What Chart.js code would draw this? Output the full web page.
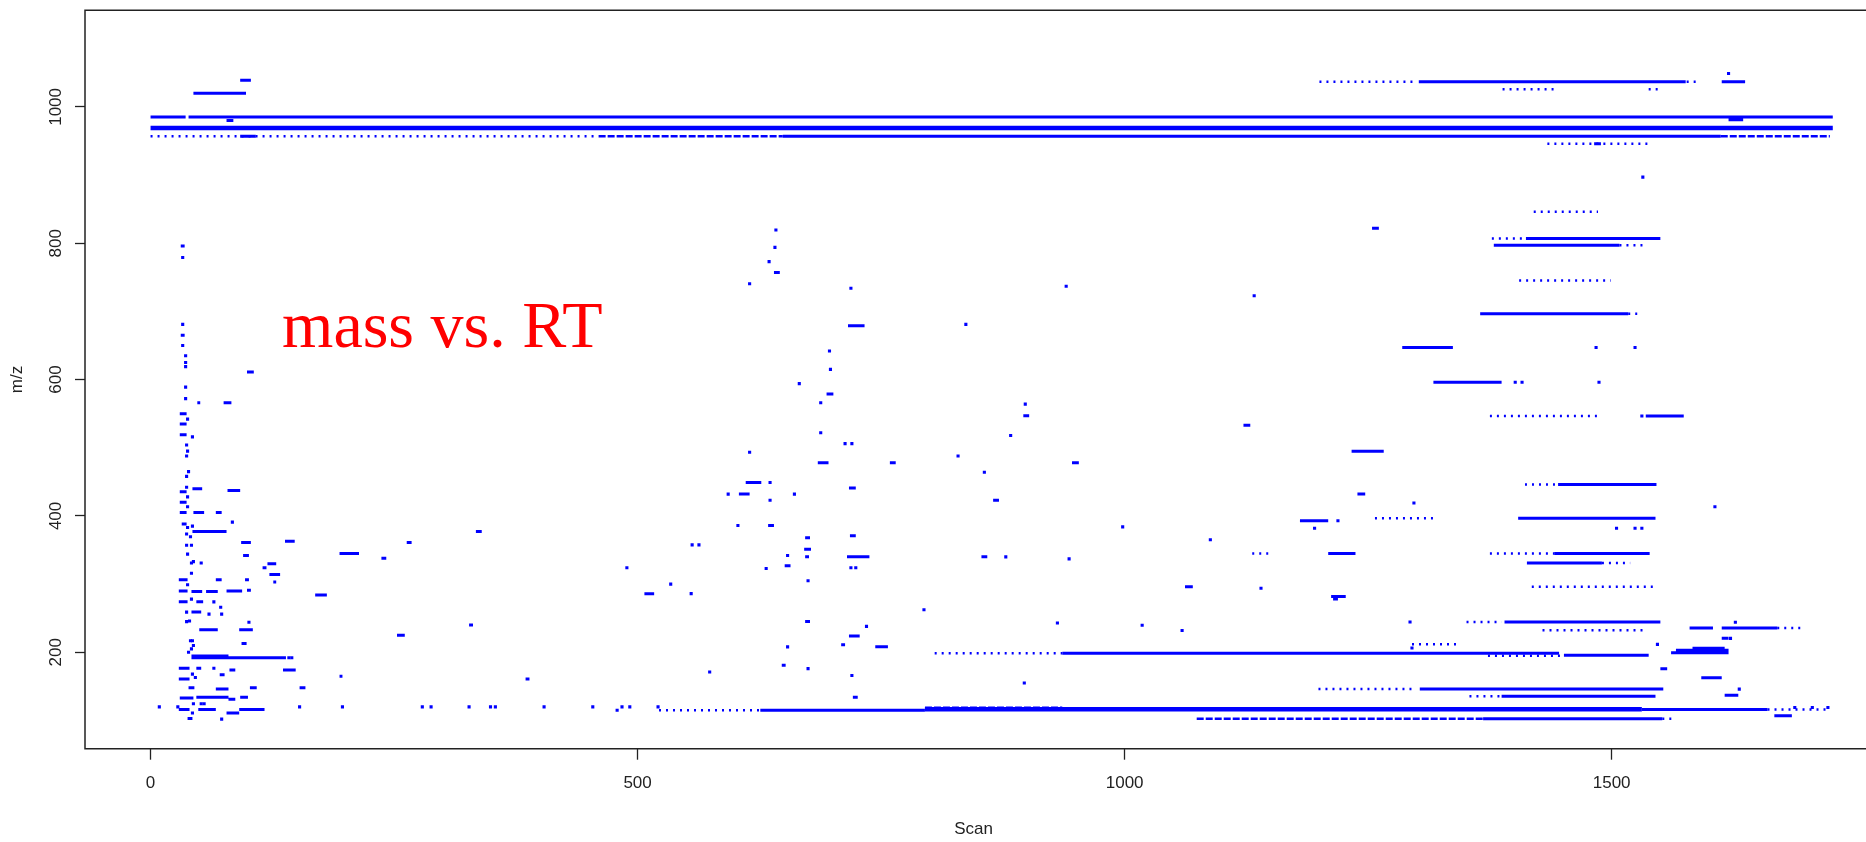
<!DOCTYPE html>
<html>
<head>
<meta charset="utf-8">
<script src="https://cdn.jsdelivr.net/npm/chart.js@4/dist/chart.umd.min.js"></script>
<style>
  html, body { margin: 0; padding: 0; background: #fff; }
  #chart { display: block; }
</style>
</head>
<body>
<canvas id="chart" width="1866" height="842"></canvas>
<script>
// axis ticks and titles
const scanTicks = [0, 500, 1000, 1500];
const mzTicks = [200, 400, 600, 800, 1000];
const xTitle = 'Scan';
const yTitle = 'm/z';
const note = 'mass vs. RT';

// continuous feature traces: [scan start, scan end, m/z]
const solidRuns = [
  [0, 36, 985], [39, 1727, 985], [649, 1612, 957], [92, 108, 957],
  [92, 103, 1039], [44, 98, 1020], [78, 85, 980],
  [1302, 1576, 1037], [1613, 1637, 1037], [1620, 1635, 981], [1482, 1489, 946],
  // early cluster
  [31, 35, 796], [31, 35, 665], [99, 106, 611], [48, 51, 566], [75, 83, 566],
  [30, 37, 550], [30, 37, 535], [30, 37, 519],
  [43, 53, 440], [79, 92, 437.5], [30, 37, 435.5], [30, 37, 420],
  [30, 37, 405], [44, 55, 405], [67, 73, 405], [32, 37, 388], [43, 78, 377],
  [93, 103, 361], [138, 148, 363], [263, 268, 361], [334, 340, 377],
  [95, 101, 342], [194, 214, 345], [237, 242, 338],
  [120, 129, 330], [115, 119, 324], [122, 133, 314],
  [29, 38, 306.5], [67, 73, 306.5], [97, 101, 306.5], [126, 129, 303],
  [29, 38, 290], [42, 53, 289], [57, 69, 289], [78, 94, 290], [99, 103, 291], [169, 181, 284],
  [29, 38, 274], [47, 54, 274], [42, 52, 259],
  [50, 69, 233], [91, 105, 233], [327, 331, 240], [253, 261, 225],
  [42, 139, 192], [42, 80, 194.5],
  [29, 40, 176.5], [47, 52, 176.5], [81, 87, 174], [136, 149, 174],
  [71, 76, 167], [194, 197, 165], [385, 389, 161], [29, 40, 161],
  [39, 45, 148], [67, 80, 146], [102, 109, 148], [153, 159, 148],
  [30, 44, 133], [47, 80, 134], [80, 87, 131], [92, 100, 134],
  [29, 40, 116], [49, 67, 116], [91, 117, 116], [78, 91, 111], [38, 43, 103],
  // middle
  [640, 646, 757], [716, 733, 679], [694, 701, 579], [896, 902, 547],
  [685, 696, 478], [759, 765, 478], [946, 953, 478], [611, 627, 449],
  [604, 615, 432], [717, 724, 441], [865, 871, 423], [634, 640, 386],
  [718, 724, 371], [672, 677, 368], [671, 678, 351],
  [672, 676, 340], [715, 738, 340], [853, 859, 340], [651, 657, 327],
  [507, 517, 286], [672, 677, 245], [717, 728, 224], [709, 713, 211],
  [744, 757, 208], [648, 652, 181], [721, 726, 134], [626, 795, 115],
  // late
  [1254, 1261, 822], [1412, 1550, 807], [1379, 1508, 797], [1365, 1517, 696.5],
  [1285, 1337, 647], [1317, 1387, 596], [1535, 1574, 546.5], [1122, 1129, 533],
  [1233, 1266, 495], [1445, 1546, 446], [1239, 1247, 432], [1180, 1209, 393],
  [1404, 1545, 396.5], [1209, 1237, 345], [1441, 1539, 345], [1413, 1490, 331],
  [1062, 1070, 296], [1212, 1227, 282], [1214, 1219, 278], [1390, 1550, 244.5],
  [1580, 1604, 235.6], [1613, 1670, 235.6], [1613, 1620, 220.5],
  [1583, 1616, 206], [1566, 1620, 203], [1561, 1620, 199.5],
  [936, 1446, 198.5], [1451, 1538, 195.5], [1550, 1557, 176], [1592, 1613, 162.5],
  [1303, 1553, 146], [1387, 1545, 135.5], [1616, 1630, 137],
  [1531, 1660, 116], [1667, 1685, 107], [1368, 1552, 102.5]
];

// the two strongest traces
const heavyRuns = [
  [0, 1727, 969], [795, 1531, 116.5]
];

// closely broken traces
const denseRuns = [
  [460, 649, 957], [1612, 1724, 957], [1074, 1368, 102.5], [795, 936, 118.5]
];

// sparse, dotted traces
const sparseRuns = [
  [0, 460, 957], [1200, 1300, 1037], [1577, 1591, 1037],
  [1388, 1442, 1026], [1538, 1549, 1026], [1434, 1537, 946],
  [1420, 1486, 846], [1377, 1412, 807], [1508, 1532, 797],
  [1405, 1499, 745.5], [1517, 1530, 696.5], [1375, 1488, 546.5],
  [1411, 1444, 446], [1257, 1317, 396.5], [1131, 1151, 345], [1375, 1441, 345],
  [1490, 1519, 331], [1418, 1543, 296], [1351, 1387, 244.5], [1429, 1533, 232.3],
  [1670, 1696, 235.6], [1295, 1345, 211.7], [805, 936, 198.5], [1373, 1450, 195],
  [1199, 1298, 146], [1354, 1387, 135.5], [1660, 1724, 116], [522, 626, 115],
  [1552, 1566, 102.5]
];

// isolated detections: [scan, m/z]
const spots = [
  [1620, 1049], [1532, 897],
  [33, 779], [33, 681], [33, 650], [36, 635], [36, 625], [36, 619], [36, 589], [36, 572],
  [38, 542], [43, 516], [37, 504], [38, 495], [37, 488], [39, 465], [37, 458], [37, 442],
  [38, 428], [38, 413.5], [84, 391], [38, 383], [43, 385], [37, 373.5], [41, 369.5],
  [37, 357], [42, 357], [38, 344], [42, 331], [44, 333], [52, 331], [42, 316], [38, 299],
  [42, 278], [65, 274], [72, 266], [37, 259], [60, 256], [73, 256], [37, 245], [40, 246],
  [101, 244], [41, 217], [43, 217], [95, 213], [97, 213], [42, 205], [44, 210], [39, 200],
  [142, 192], [145, 192], [65, 176.5], [43, 168], [46, 163], [44, 124.6], [52, 124.6],
  [55, 124.6], [9, 120], [28, 120], [153, 120], [197, 120], [279, 120], [288, 120],
  [327, 120], [349, 120], [354, 120], [43, 111], [73, 102],
  [642, 819.5], [641, 794], [635, 773], [615, 740.5], [719, 734], [940, 737], [837, 681],
  [697, 642], [698, 615], [666, 594], [688, 566], [898, 564], [883, 518], [688, 522],
  [713, 506], [720, 506], [615, 493.5], [829, 488], [856, 464], [636, 449], [593, 432],
  [661, 432], [636, 423], [603, 386], [998, 384], [556, 357.5], [563, 357.5], [654, 342],
  [878, 340], [943, 337], [632, 323], [719, 324], [724, 324], [489, 324], [534, 300],
  [555, 286], [675, 305], [794, 262.5], [931, 243], [735, 238], [654, 208], [675, 176],
  [574, 171], [720, 166], [897, 155], [404, 120], [454, 120], [484, 120], [492, 120],
  [521, 120], [479, 115],
  [1133, 723], [1484, 647], [1524, 647], [1401, 596], [1408, 596], [1487, 596],
  [1531, 546.5], [1297, 419], [1606, 413.5], [1219, 393], [1195, 382], [1505, 382],
  [1524, 382], [1531, 382], [1088, 365], [1140, 294], [1018, 239.6], [1059, 232],
  [1293, 244.5], [1627, 244], [1622, 220.5], [1547, 211.7], [1295, 206.3],
  [1688, 119], [1706, 119], [1722, 119], [1631, 146]
];

const blue = '#0000ff';
const ink = '#222222';
const axisFont = { family: '"Liberation Sans", Arial, sans-serif', size: 17 };

function runsToPoints(runs) {
  const pts = [];
  runs.forEach(([a, b, m]) => {
    pts.push({ x: a, y: m }, { x: b, y: m }, { x: b, y: null });
  });
  return pts;
}

function traceSet(runs, width, dash) {
  return {
    data: runsToPoints(runs),
    showLine: true,
    borderColor: blue,
    borderWidth: width,
    borderDash: dash,
    borderCapStyle: 'butt',
    pointRadius: 0,
    spanGaps: false,
  };
}

// R style box; its right side sits just past the canvas edge
const framePlugin = {
  id: 'frame',
  afterDraw(chart) {
    const { ctx, chartArea: a } = chart;
    ctx.save();
    ctx.strokeStyle = ink;
    ctx.lineWidth = 1.5;
    ctx.beginPath();
    ctx.moveTo(chart.width + 2, a.top);
    ctx.lineTo(a.left, a.top);
    ctx.lineTo(a.left, a.bottom);
    ctx.lineTo(chart.width + 2, a.bottom);
    ctx.stroke();
    ctx.restore();
  }
};

const notePlugin = {
  id: 'note',
  afterDatasetsDraw(chart) {
    const { ctx, scales } = chart;
    ctx.save();
    ctx.fillStyle = '#ff0000';
    ctx.font = '66px "Liberation Serif", "Times New Roman", serif';
    ctx.textAlign = 'left';
    ctx.textBaseline = 'alphabetic';
    ctx.fillText(note, scales.x.getPixelForValue(135), scales.y.getPixelForValue(647.7));
    ctx.restore();
  }
};

new Chart(document.getElementById('chart'), {
  type: 'scatter',
  data: {
    datasets: [
      traceSet(sparseRuns, 2.5, [2, 5]),
      traceSet(denseRuns, 2.5, [7, 2]),
      traceSet(solidRuns, 3, []),
      traceSet(heavyRuns, 4.5, []),
      {
        data: spots.map(([x, y]) => ({ x, y })),
        pointStyle: 'rect',
        pointRadius: 2.2,
        pointBackgroundColor: blue,
        pointBorderWidth: 0,
        showLine: false,
      }
    ]
  },
  options: {
    responsive: false,
    devicePixelRatio: 1,
    animation: false,
    layout: { padding: { top: 10, right: 1, left: 0, bottom: 0 } },
    plugins: { legend: { display: false }, tooltip: { enabled: false } },
    scales: {
      x: {
        type: 'linear',
        min: -67.3,
        max: 1757,
        afterBuildTicks: s => { s.ticks = scanTicks.map(v => ({ value: v })); },
        afterFit: s => { s.height = 93.3; },
        grid: { drawOnChartArea: false, drawTicks: true, tickLength: 11, tickColor: ink, tickWidth: 1.3 },
        border: { display: false },
        ticks: { color: ink, font: axisFont, padding: 13, maxRotation: 0, minRotation: 0, callback: v => String(v) },
        title: { display: true, text: xTitle, color: ink, font: axisFont, padding: { top: 0, bottom: 2 } }
      },
      y: {
        type: 'linear',
        min: 58.6,
        max: 1141.8,
        afterBuildTicks: s => { s.ticks = mzTicks.map(v => ({ value: v })); },
        afterFit: s => { s.width = 85; },
        grid: { drawOnChartArea: false, drawTicks: true, tickLength: 10, tickColor: ink, tickWidth: 1.3 },
        border: { display: false },
        ticks: { color: ink, font: axisFont, padding: 0, minRotation: 90, maxRotation: 90, crossAlign: 'center', callback: v => String(v) },
        title: { display: true, text: yTitle, color: ink, font: axisFont, padding: { top: 7, bottom: 0 } }
      }
    }
  },
  plugins: [framePlugin, notePlugin]
});
</script>
</body>
</html>
